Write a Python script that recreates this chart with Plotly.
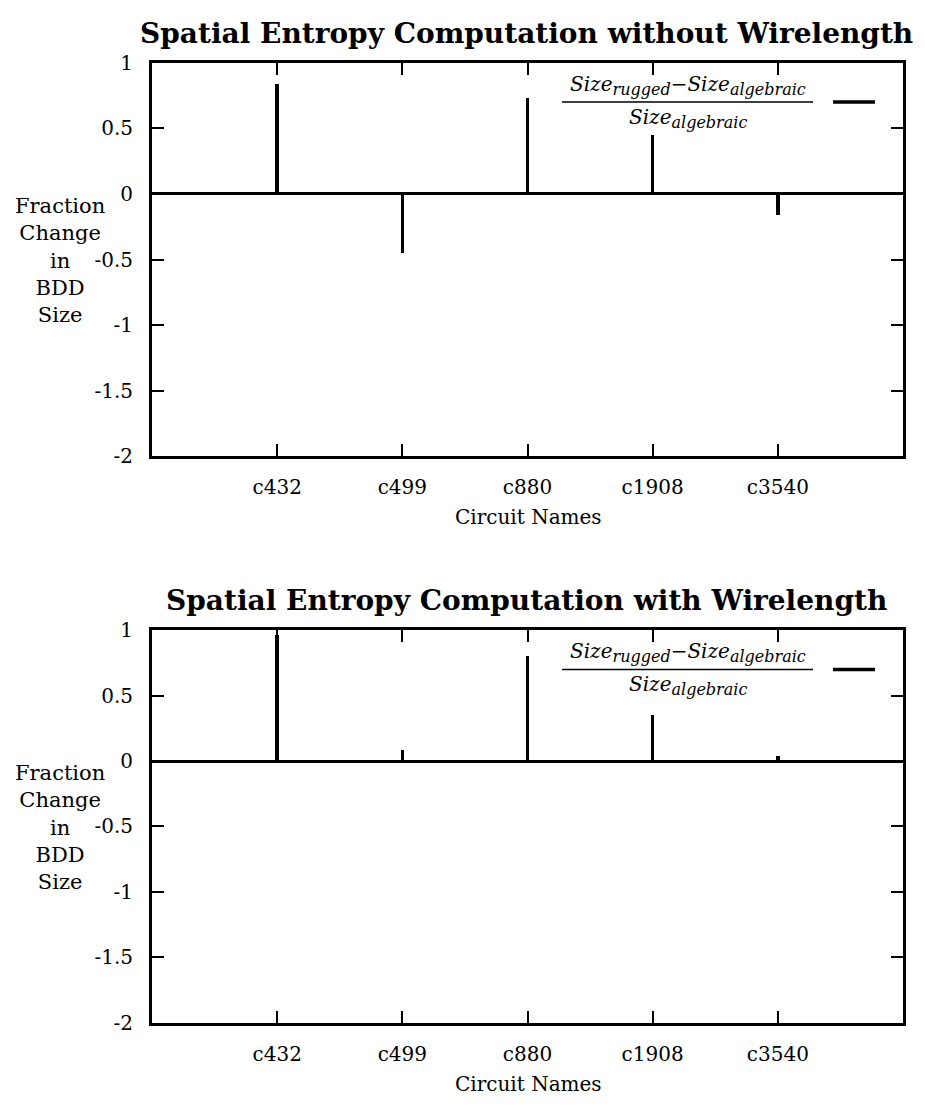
import plotly.graph_objects as go

circuits = ["c432", "c499", "c880", "c1908", "c3540"]
without_wl = [0.84, -0.45, 0.73, 0.45, -0.16]
with_wl = [0.96, 0.08, 0.80, 0.35, 0.04]
titles = ["Spatial Entropy Computation without Wirelength",
          "Spatial Entropy Computation with Wirelength"]
ytick_vals = [1, 0.5, 0, -0.5, -1, -1.5, -2]
ytick_text = ["1", "0.5", "0", "-0.5", "-1", "-1.5", "-2"]

W, H = 925, 1108
def px(x): return x / W
def py(y): return 1 - y / H

FONT = "DejaVu Serif"
fig = go.Figure()

panels = [
    dict(vals=without_wl, xa="x", ya="y", top=52, bot=454, title=titles[0]),
    dict(vals=with_wl, xa="x2", ya="y2", top=632, bot=1033, title=titles[1]),
]

SUB = '<sub><span style="font-size:16px">{}</span></sub>'

for i, p in enumerate(panels):
    fig.add_trace(go.Bar(x=circuits, y=p["vals"], width=0.028,
                         marker=dict(color="black", line=dict(width=0)),
                         xaxis=p["xa"], yaxis=p["ya"], showlegend=False))
    sfx = "" if i == 0 else "2"
    axcommon = dict(showline=True, linecolor="black", linewidth=3, mirror="allticks",
                    ticks="inside", ticklen=12, tickwidth=2, tickcolor="black",
                    showgrid=False, tickfont=dict(family=FONT, size=20, color="black"))
    fig.layout["xaxis" + sfx] = dict(domain=[px(152), px(903)], anchor="y" + sfx,
                                      type="category", range=[-1, 5],
                                      categoryorder="array", categoryarray=circuits,
                                      zeroline=False, ticklabelstandoff=11, **axcommon)
    fig.layout["yaxis" + sfx] = dict(domain=[py(p["bot"]), py(p["top"])], anchor="x" + sfx,
                                      range=[-2, 1], tickvals=ytick_vals, ticktext=ytick_text,
                                      zeroline=True, zerolinecolor="black", zerolinewidth=3,
                                      ticklabelstandoff=12, **axcommon)
    off = p["top"] - 52
    # title
    fig.add_annotation(x=px(526), y=py(22 + off), xref="paper", yref="paper",
                       text="<b>" + p["title"] + "</b>", showarrow=False,
                       font=dict(family=FONT, size=28, color="black"), xanchor="center", yanchor="middle")
    # x-axis title
    fig.add_annotation(x=px(528), y=py(516 + off), xref="paper", yref="paper",
                       text="Circuit Names", showarrow=False,
                       font=dict(family=FONT, size=20, color="black"), xanchor="center", yanchor="middle")
    # y-axis title
    fig.add_annotation(x=px(60), y=py(254 + off), xref="paper", yref="paper",
                       text="Fraction<br>Change<br>in<br>BDD<br>Size", showarrow=False, align="center",
                       font=dict(family=FONT, size=21, color="black"), xanchor="center", yanchor="middle")
    # legend (fraction)
    fy = 92 + off
    fig.add_annotation(x=px(688), y=py(fy - 1), xref="paper", yref="paper",
                       text="<i>Size</i>" + SUB.format("<i>rugged</i>") + "−<i>Size</i>"
                            + SUB.format("<i>algebraic</i>"),
                       showarrow=False, font=dict(family=FONT, size=20, color="black"),
                       xanchor="center", yanchor="bottom")
    fig.add_annotation(x=px(688), y=py(fy + 1), xref="paper", yref="paper",
                       text="<i>Size</i>" + SUB.format("<i>algebraic</i>"),
                       showarrow=False, font=dict(family=FONT, size=20, color="black"),
                       xanchor="center", yanchor="top")
    fig.add_shape(type="line", xref="paper", yref="paper", x0=px(562), x1=px(813),
                  y0=py(fy), y1=py(fy), line=dict(color="black", width=1.5))
    fig.add_shape(type="line", xref="paper", yref="paper", x0=px(833), x1=px(875),
                  y0=py(fy), y1=py(fy), line=dict(color="black", width=3.5))

fig.update_layout(width=W, height=H, margin=dict(l=0, r=0, t=0, b=0),
                  plot_bgcolor="white", paper_bgcolor="white", bargap=0,
                  font=dict(family=FONT, color="black"))
fig.write_html("out.html", config={"displayModeBar": False},
               post_script="document.body.style.margin='0';")
